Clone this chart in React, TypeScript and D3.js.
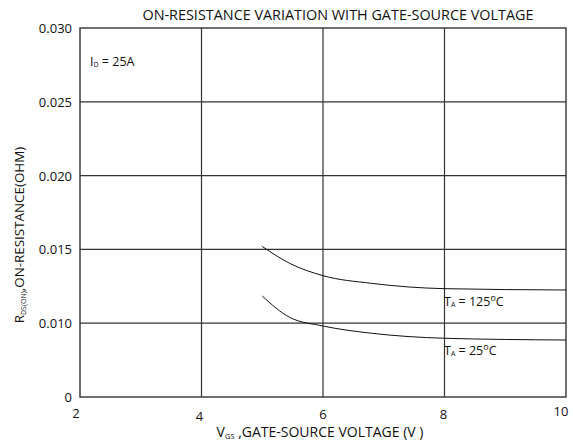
import { scaleLinear, line, curveMonotoneX } from "d3";

const width = 573;
const height = 444;
const margin = { top: 28, right: 7, bottom: 47, left: 80 };

const xTicks = [2, 4, 6, 8, 10];
// the datasheet labels the bottom line "0" though the grid spacing puts it at 0.005
const yTicks = [0.005, 0.01, 0.015, 0.02, 0.025, 0.03];
const yTickLabels = ["0", "0.010", "0.015", "0.020", "0.025", "0.030"];

const vgs = [5, 5.45, 6, 6.8, 8, 10];
const rds125 = [0.0152, 0.01406, 0.01322, 0.0127, 0.01234, 0.01225];
const rds25 = [0.01184, 0.0104, 0.00981, 0.00932, 0.00898, 0.00886];

const font = "'Open Sans', 'Noto Sans', sans-serif";

const x = scaleLinear().domain([2, 10]).range([margin.left, width - margin.right]);
const y = scaleLinear().domain([0.005, 0.03]).range([height - margin.bottom, margin.top]);

const pathOf = line<number>()
  .x((_, i) => x(vgs[i]))
  .y((d) => y(d))
  .curve(curveMonotoneX);

// tick labels are not quite aligned in the original
const xLabelDy = [21, 24, 22, 22, 19];
const xLabelDx = [-4, -2, 0, -1, -5];

const App = () => {
  const [x0, x1] = x.range();
  const [y0, y1] = y.range();
  return (
    <svg
      width={width}
      height={height}
      style={{ position: "absolute", left: 0, top: 0, background: "#fff" }}
      fontFamily={font}
    >
      <text x={338} y={20} fontSize={14.4} textAnchor="middle" fill="#111">
        ON-RESISTANCE VARIATION WITH GATE-SOURCE VOLTAGE
      </text>

      {yTicks.slice(1, -1).map((t) => (
        <line key={t} x1={x0} x2={x1} y1={y(t)} y2={y(t)} stroke="#333" strokeWidth={1.2} />
      ))}
      {xTicks.slice(1, -1).map((t) => (
        <line key={t} x1={x(t)} x2={x(t)} y1={y0} y2={y1} stroke="#333" strokeWidth={1.2} />
      ))}
      <rect x={x0} y={y1} width={x1 - x0} height={y0 - y1} fill="none" stroke="#333" strokeWidth={1.4} />

      {yTicks.map((t, i) => (
        <text key={t} x={x0 - 8} y={y(t) + 5} fontSize={13} textAnchor="end" fill="#111">
          {yTickLabels[i]}
        </text>
      ))}
      {xTicks.map((t, i) => (
        <text key={t} x={x(t) + xLabelDx[i]} y={y0 + xLabelDy[i]} fontSize={13} textAnchor="middle" fill="#111">
          {t}
        </text>
      ))}

      <path d={pathOf(rds125) || ""} fill="none" stroke="#111" strokeWidth={1} />
      <path d={pathOf(rds25) || ""} fill="none" stroke="#111" strokeWidth={1} />

      <text x={444} y={306} fontSize={12.5} fill="#111">
        T<tspan fontSize={7} dy={1}>A</tspan>
        <tspan dy={-1}>{"  = 125"}</tspan>
        <tspan fontSize={9} dy={-5}>o</tspan>
        <tspan dy={5}>C</tspan>
      </text>
      <text x={444} y={355} fontSize={12.5} fill="#111">
        T<tspan fontSize={7} dy={1}>A</tspan>
        <tspan dy={-1}>{"  = 25"}</tspan>
        <tspan fontSize={9} dy={-5}>o</tspan>
        <tspan dy={5}>C</tspan>
      </text>
      <text x={90} y={66} fontSize={12.5} fill="#111">
        I<tspan fontSize={7} dy={1}>D</tspan>
        <tspan dy={-1}>{" = 25A"}</tspan>
      </text>

      <text x={320} y={437} fontSize={14} textAnchor="middle" fill="#111">
        V<tspan fontSize={7.5} dy={2}>GS</tspan>
        <tspan dy={-2}>{" ,GATE-SOURCE VOLTAGE (V )"}</tspan>
      </text>
      <text transform="translate(24,235) rotate(-90)" fontSize={13.4} textAnchor="middle" fill="#111">
        R<tspan fontSize={7} dy={2}>DS(ON)</tspan>
        <tspan dy={-2}>,ON-RESISTANCE(OHM)</tspan>
      </text>
    </svg>
  );
};

export default App;
